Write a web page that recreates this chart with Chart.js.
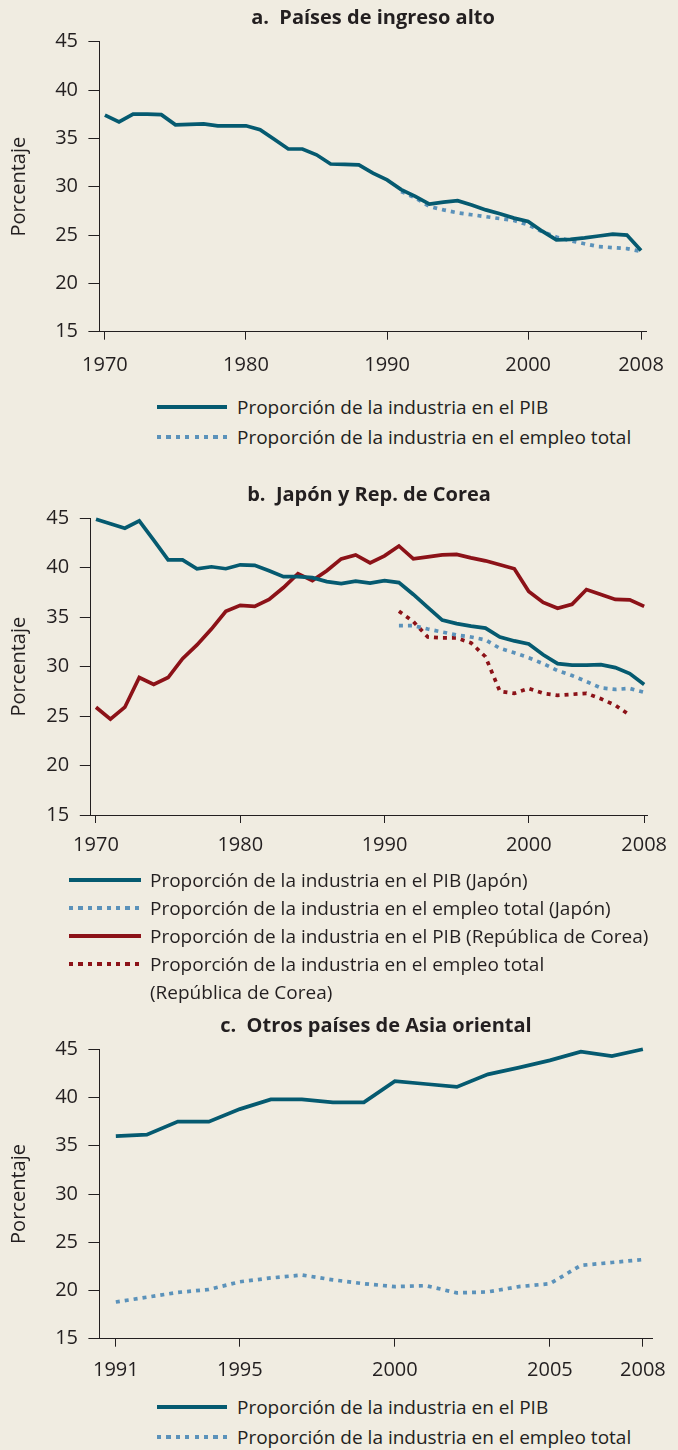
<!DOCTYPE html>
<html><head><meta charset="utf-8">
<script src="https://cdn.jsdelivr.net/npm/chart.js@4.4.1/dist/chart.umd.min.js"></script>
<style>
html,body{margin:0;padding:0;background:#F0ECE1;}
body{width:678px;height:1450px;position:relative;overflow:hidden;font-family:'Open Sans',sans-serif;color:#231F20;}
canvas{position:absolute;left:0;}
.sample{position:absolute;height:4px;}
.txt{position:absolute;font-size:19px;white-space:nowrap;}
</style></head><body>
<canvas id="ca" width="678" height="385" style="top:0px"></canvas>
<canvas id="cb" width="678" height="395" style="top:470px"></canvas>
<canvas id="cc" width="678" height="390" style="top:1000px"></canvas>
<div id="legends"></div>
<script>
// ---------------- DATA ----------------
const titleA = 'a.  Países de ingreso alto';
const titleB = 'b.  Japón y Rep. de Corea';
const titleC = 'c.  Otros países de Asia oriental';
const yAxisTitle = 'Porcentaje';
const yTicks = [15, 20, 25, 30, 35, 40, 45];

// Panel a
const yearsA = [1970,1971,1972,1973,1974,1975,1976,1977,1978,1979,1980,1981,1982,1983,1984,1985,1986,1987,1988,1989,1990,1991,1992,1993,1994,1995,1996,1997,1998,1999,2000,2001,2002,2003,2004,2005,2006,2007,2008];
const gdpHighIncome = [37.4,36.7,37.5,37.5,37.45,36.4,36.45,36.5,36.3,36.3,36.3,35.9,34.9,33.9,33.9,33.3,32.35,32.3,32.25,31.4,30.7,29.7,29.0,28.2,28.4,28.55,28.1,27.6,27.2,26.75,26.4,25.4,24.5,24.55,24.7,24.9,25.1,25.0,23.4];
const yearsEmpA = [1991,1992,1993,1994,1995,1996,1997,1998,1999,2000,2001,2002,2003,2004,2005,2006,2007,2008];
const empHighIncome = [29.5,28.85,27.95,27.6,27.3,27.1,26.9,26.7,26.5,26.05,25.35,24.8,24.4,24.1,23.8,23.7,23.6,23.3];
const tickYearsA = [1970, 1980, 1990, 2000, 2008];
const labelsA = ['Proporción de la industria en el PIB', 'Proporción de la industria en el empleo total'];

// Panel b
const yearsB = [1970,1971,1972,1973,1974,1975,1976,1977,1978,1979,1980,1981,1982,1983,1984,1985,1986,1987,1988,1989,1990,1991,1992,1993,1994,1995,1996,1997,1998,1999,2000,2001,2002,2003,2004,2005,2006,2007,2008];
const gdpJapan = [44.9,44.45,44.0,44.75,42.8,40.8,40.8,39.9,40.1,39.9,40.3,40.25,39.7,39.1,39.1,39.0,38.6,38.4,38.65,38.45,38.7,38.5,37.3,36.0,34.7,34.35,34.1,33.9,33.0,32.6,32.3,31.2,30.3,30.15,30.15,30.2,29.9,29.3,28.2];
const gdpKorea = [25.9,24.7,25.9,28.9,28.2,28.9,30.8,32.2,33.8,35.6,36.2,36.1,36.8,38.0,39.4,38.7,39.7,40.9,41.3,40.5,41.2,42.2,40.9,41.1,41.3,41.35,41.0,40.7,40.3,39.9,37.6,36.5,35.9,36.3,37.8,37.3,36.8,36.75,36.1];
const yearsEmpJapan = [1991,1992,1993,1994,1995,1996,1997,1998,1999,2000,2001,2002,2003,2004,2005,2006,2007,2008];
const empJapan = [34.15,34.15,33.8,33.5,33.2,33.0,32.7,31.85,31.4,30.9,30.3,29.6,29.1,28.5,27.85,27.7,27.8,27.4];
const yearsEmpKorea = [1991,1992,1993,1994,1995,1996,1997,1998,1999,2000,2001,2002,2003,2004,2005,2006,2007];
const empKorea = [35.6,34.55,33.0,32.9,32.9,32.4,31.0,27.5,27.3,27.8,27.3,27.1,27.2,27.3,26.75,26.1,25.1];
const tickYearsB = [1970, 1980, 1990, 2000, 2008];
const labelsB = [
  'Proporción de la industria en el PIB (Japón)',
  'Proporción de la industria en el empleo total (Japón)',
  'Proporción de la industria en el PIB (República de Corea)',
  ['Proporción de la industria en el empleo total', '(República de Corea)']
];

// Panel c
const yearsC = [1991,1992,1993,1994,1995,1996,1997,1998,1999,2000,2001,2002,2003,2004,2005,2006,2007,2008];
const gdpEastAsia = [36.0,36.15,37.5,37.5,38.8,39.8,39.8,39.5,39.5,41.7,41.4,41.1,42.4,43.1,43.85,44.75,44.3,45.0];
const empEastAsia = [18.8,19.3,19.8,20.1,20.9,21.3,21.6,21.1,20.7,20.4,20.5,19.75,19.85,20.4,20.7,22.6,22.9,23.2];
const tickYearsC = [1991, 1995, 2000, 2005, 2008];
const labelsC = ['Proporción de la industria en el PIB', 'Proporción de la industria en el empleo total'];

// ---------------- STYLE ----------------
const FONT = "'Open Sans', sans-serif";
const TEXT = '#231F20';
const TEAL = '#055A70';
const LBLUE = '#5B92BA';
const RED = '#8C1218';
const LW = 3.7;
const DOT = [4, 5];

function pts(xs, ys) { return xs.map((x, i) => ({x: x, y: ys[i]})); }
function ds(label, xs, ys, color, dotted) {
  return {label: label, data: pts(xs, ys), borderColor: color, backgroundColor: color,
    borderWidth: LW, borderDash: dotted ? DOT : [], pointRadius: 0, pointHoverRadius: 0,
    tension: 0, fill: false, borderJoinStyle: 'miter', borderCapStyle: 'butt', clip: 8};
}

function makeChart(id, g, title, datasets, tickYears) {
  const tickFontSize = 20, tickLH = 1.2, titleSize = 20;
  return new Chart(document.getElementById(id), {
    type: 'line',
    data: {datasets: datasets},
    options: {
      responsive: false, animation: false, devicePixelRatio: 1,
      layout: {padding: {left: 0, right: 678 - g.right, top: 0, bottom: 0}},
      plugins: {
        legend: {display: false}, tooltip: {enabled: false},
        title: {display: true, text: title, fullSize: false, color: TEXT,
          font: {family: FONT, size: titleSize, weight: 'bold', lineHeight: 1},
          padding: {top: g.titleY - titleSize / 2, bottom: g.top - g.titleY - titleSize / 2}}
      },
      scales: {
        x: {type: 'linear', min: g.xmin, max: g.xmax,
          afterBuildTicks: s => { s.ticks = tickYears.map(v => ({value: v})); },
          afterFit: s => { s.height = g.H - g.bottom; },
          ticks: {callback: v => String(v), autoSkip: false, maxRotation: 0, minRotation: 0,
            color: TEXT, padding: g.labelY - g.bottom - 8 - tickFontSize * tickLH / 2,
            font: {family: FONT, size: tickFontSize, lineHeight: tickLH}},
          grid: {drawOnChartArea: false, drawTicks: true, tickLength: 8, color: TEXT, lineWidth: 1},
          border: {display: true, color: TEXT, width: 1}
        },
        y: {min: 15, max: 45,
          afterBuildTicks: s => { s.ticks = yTicks.map(v => ({value: v})); },
          afterFit: s => { s.width = g.left; },
          ticks: {color: TEXT, padding: g.left - 11 - g.yLabelRight,
            font: {family: FONT, size: tickFontSize, lineHeight: tickLH}},
          grid: {drawOnChartArea: false, drawTicks: true, tickLength: 11, color: TEXT, lineWidth: 1},
          border: {display: true, color: TEXT, width: 1},
          title: {display: true, text: yAxisTitle, color: TEXT,
            font: {family: FONT, size: 20, lineHeight: 1.2}, padding: {top: 19.5 - 12, bottom: 0}}
        }
      }
    }
  });
}

const geomA = {H: 385, left: 99.4, right: 656, top: 41.7, bottom: 331.7, titleY: 18.3, labelY: 365.5, yLabelRight: 78, xmin: 1969.61, xmax: 2008.40};
const geomB = {H: 395, left: 90.8, right: 647.2, top: 48.3, bottom: 345, titleY: 25, labelY: 375.5, yLabelRight: 69.2, xmin: 1969.64, xmax: 2008.21};
const geomC = {H: 390, left: 99.4, right: 656, top: 49.3, bottom: 338.7, titleY: 26, labelY: 370.5, yLabelRight: 78, xmin: 1990.47, xmax: 2008.31};

const dsA = [ds(labelsA[0], yearsA, gdpHighIncome, TEAL, false), ds(labelsA[1], yearsEmpA, empHighIncome, LBLUE, true)];
const dsB = [ds(labelsB[0], yearsB, gdpJapan, TEAL, false), ds(labelsB[1], yearsEmpJapan, empJapan, LBLUE, true),
             ds(labelsB[2], yearsB, gdpKorea, RED, false), ds(labelsB[3], yearsEmpKorea, empKorea, RED, true)];
const dsC = [ds(labelsC[0], yearsC, gdpEastAsia, TEAL, false), ds(labelsC[1], yearsC, empEastAsia, LBLUE, true)];

const chA = makeChart('ca', geomA, titleA, dsA, tickYearsA);
const chB = makeChart('cb', geomB, titleB, dsB, tickYearsB);
const chC = makeChart('cc', geomC, titleC, dsC, tickYearsC);

// ---------------- LEGENDS (HTML, generated from the chart datasets) ----------------
function legend(chart, L) {
  const host = document.getElementById('legends');
  let cy = L.firstY;
  chart.data.datasets.forEach(d => {
    const lines = Array.isArray(d.label) ? d.label : [d.label];
    const s = document.createElement('div');
    s.className = 'sample';
    s.style.left = L.sx + 'px'; s.style.width = L.sw + 'px'; s.style.top = (cy - 2) + 'px';
    if (d.borderDash && d.borderDash.length) {
      s.style.background = 'repeating-linear-gradient(to right,' + d.borderColor + ' 0 4.3px, transparent 4.3px 9.4px)';
    } else {
      s.style.background = d.borderColor;
    }
    host.appendChild(s);
    const t = document.createElement('div');
    t.className = 'txt';
    t.style.left = L.tx + 'px';
    t.style.top = (cy - L.step / 2) + 'px';
    t.style.lineHeight = L.step + 'px';
    lines.forEach((ln, i) => { if (i) t.appendChild(document.createElement('br')); t.appendChild(document.createTextNode(ln)); });
    host.appendChild(t);
    cy += L.step * lines.length;
  });
}
legend(chA, {firstY: 407.3, step: 30, sx: 156.5, sw: 70.5, tx: 237});
legend(chB, {firstY: 880, step: 28, sx: 69, sw: 71.5, tx: 150});
legend(chC, {firstY: 1407.3, step: 30, sx: 156.5, sw: 70.5, tx: 237});
</script>
</body></html>
